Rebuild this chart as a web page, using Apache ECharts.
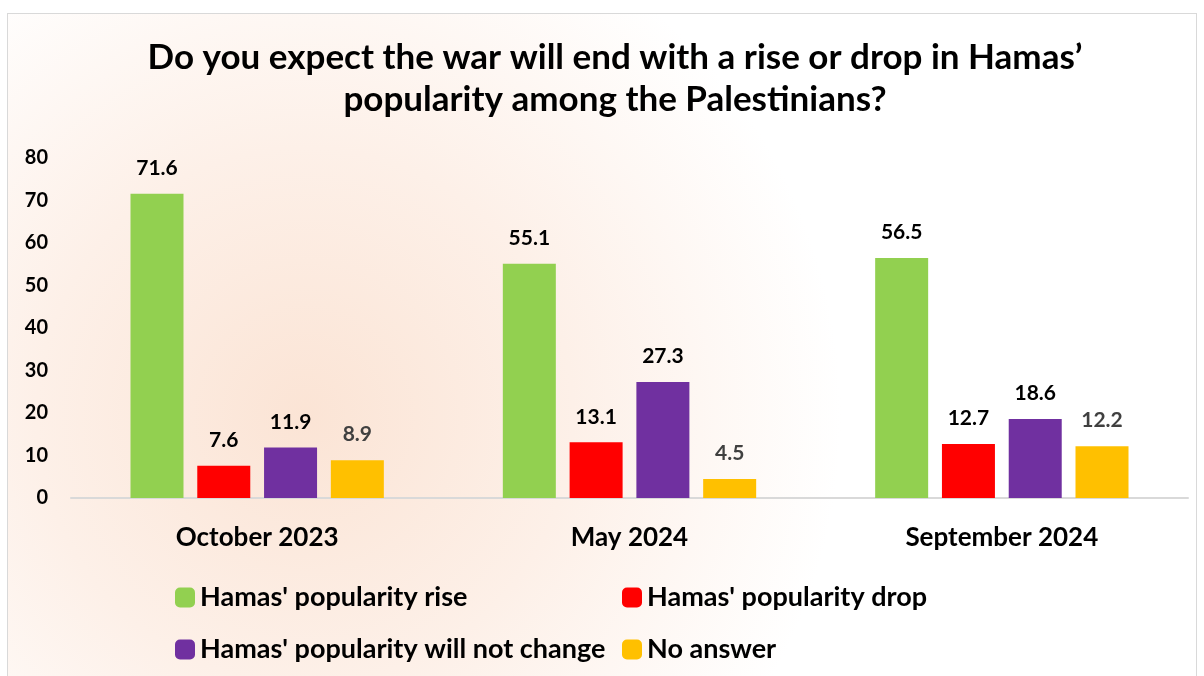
<html>
<head>
  <meta charset="utf-8">
  <title>Hamas popularity</title>
  <script src="https://cdn.jsdelivr.net/npm/echarts@6/dist/echarts.min.js"></script>
  <style>
    body { margin: 0; background: #fff; }
    #chart { position: absolute; left: 7px; top: 13px; width: 1188px; height: 670px; border: 1px solid #d9d9d9; }
  </style>
</head>
<body>
  <div id="chart"></div>
  <script>
    var categories = ['October 2023', 'May 2024', 'September 2024'];
    var riseValues = [71.6, 55.1, 56.5];
    var dropValues = [7.6, 13.1, 12.7];
    var noChangeValues = [11.9, 27.3, 18.6];
    var noAnswerValues = [8.9, 4.5, 12.2];
    var seriesNames = ["Hamas' popularity rise", "Hamas' popularity drop",
                       "Hamas' popularity will not change", "No answer"];

    var font = 'Lato, "Open Sans", sans-serif';

    function bar(name, data, color, labelColor) {
      return {
        name: name,
        type: 'bar',
        data: data,
        barWidth: 53,
        barGap: '26%',
        itemStyle: { color: color },
        label: {
          show: true,
          position: 'top',
          distance: 15,
          color: labelColor,
          fontFamily: font,
          fontWeight: 'bold',
          fontSize: 21
        }
      };
    }

    var chart = echarts.init(document.getElementById('chart'));
    chart.setOption({
      backgroundColor: {
        type: 'radial', x: 0.25, y: 0.6, r: 0.8,
        colorStops: [
          { offset: 0, color: '#fbe4d5' },
          { offset: 0.5, color: '#fdf0e8' },
          { offset: 1, color: '#ffffff' }
        ]
      },
      title: {
        text: 'Do you expect the war will end with a rise or drop in Hamas\u2019\npopularity among the Palestinians?',
        left: 602,
        top: 18,
        textAlign: 'center',
        textStyle: {
          fontFamily: font, fontWeight: 'bold', fontSize: 35,
          lineHeight: 42, color: '#000'
        }
      },
      legend: [{
        orient: 'vertical',
        left: 162, top: 565,
        itemWidth: 20, itemHeight: 20, itemGap: 25,
        data: [seriesNames[0], seriesNames[2]],
        textStyle: { fontFamily: font, fontWeight: 'bold', fontSize: 27, lineHeight: 20, color: '#000' }
      }, {
        orient: 'vertical',
        left: 609, top: 565,
        itemWidth: 20, itemHeight: 20, itemGap: 25,
        data: [seriesNames[1], seriesNames[3]],
        textStyle: { fontFamily: font, fontWeight: 'bold', fontSize: 27, lineHeight: 20, color: '#000' }
      }],
      grid: { left: 63, top: 144, width: 1117, height: 340 },
      xAxis: {
        type: 'category',
        data: categories,
        axisTick: { show: false },
        axisLine: { lineStyle: { color: '#d9d9d9', width: 2 } },
        axisLabel: {
          margin: 27, color: '#000',
          fontFamily: font, fontWeight: 'bold', fontSize: 26
        }
      },
      yAxis: {
        type: 'value',
        min: 0, max: 80, interval: 10,
        splitLine: { show: false },
        axisLine: { show: false },
        axisTick: { show: false },
        axisLabel: {
          margin: 23, color: '#000',
          fontFamily: font, fontWeight: 'bold', fontSize: 20
        }
      },
      series: [
        bar(seriesNames[0], riseValues, '#92D050', '#000'),
        bar(seriesNames[1], dropValues, '#FF0000', '#000'),
        bar(seriesNames[2], noChangeValues, '#7030A0', '#000'),
        bar(seriesNames[3], noAnswerValues, '#FFC000', '#404040')
      ]
    });
  </script>
</body>
</html>
